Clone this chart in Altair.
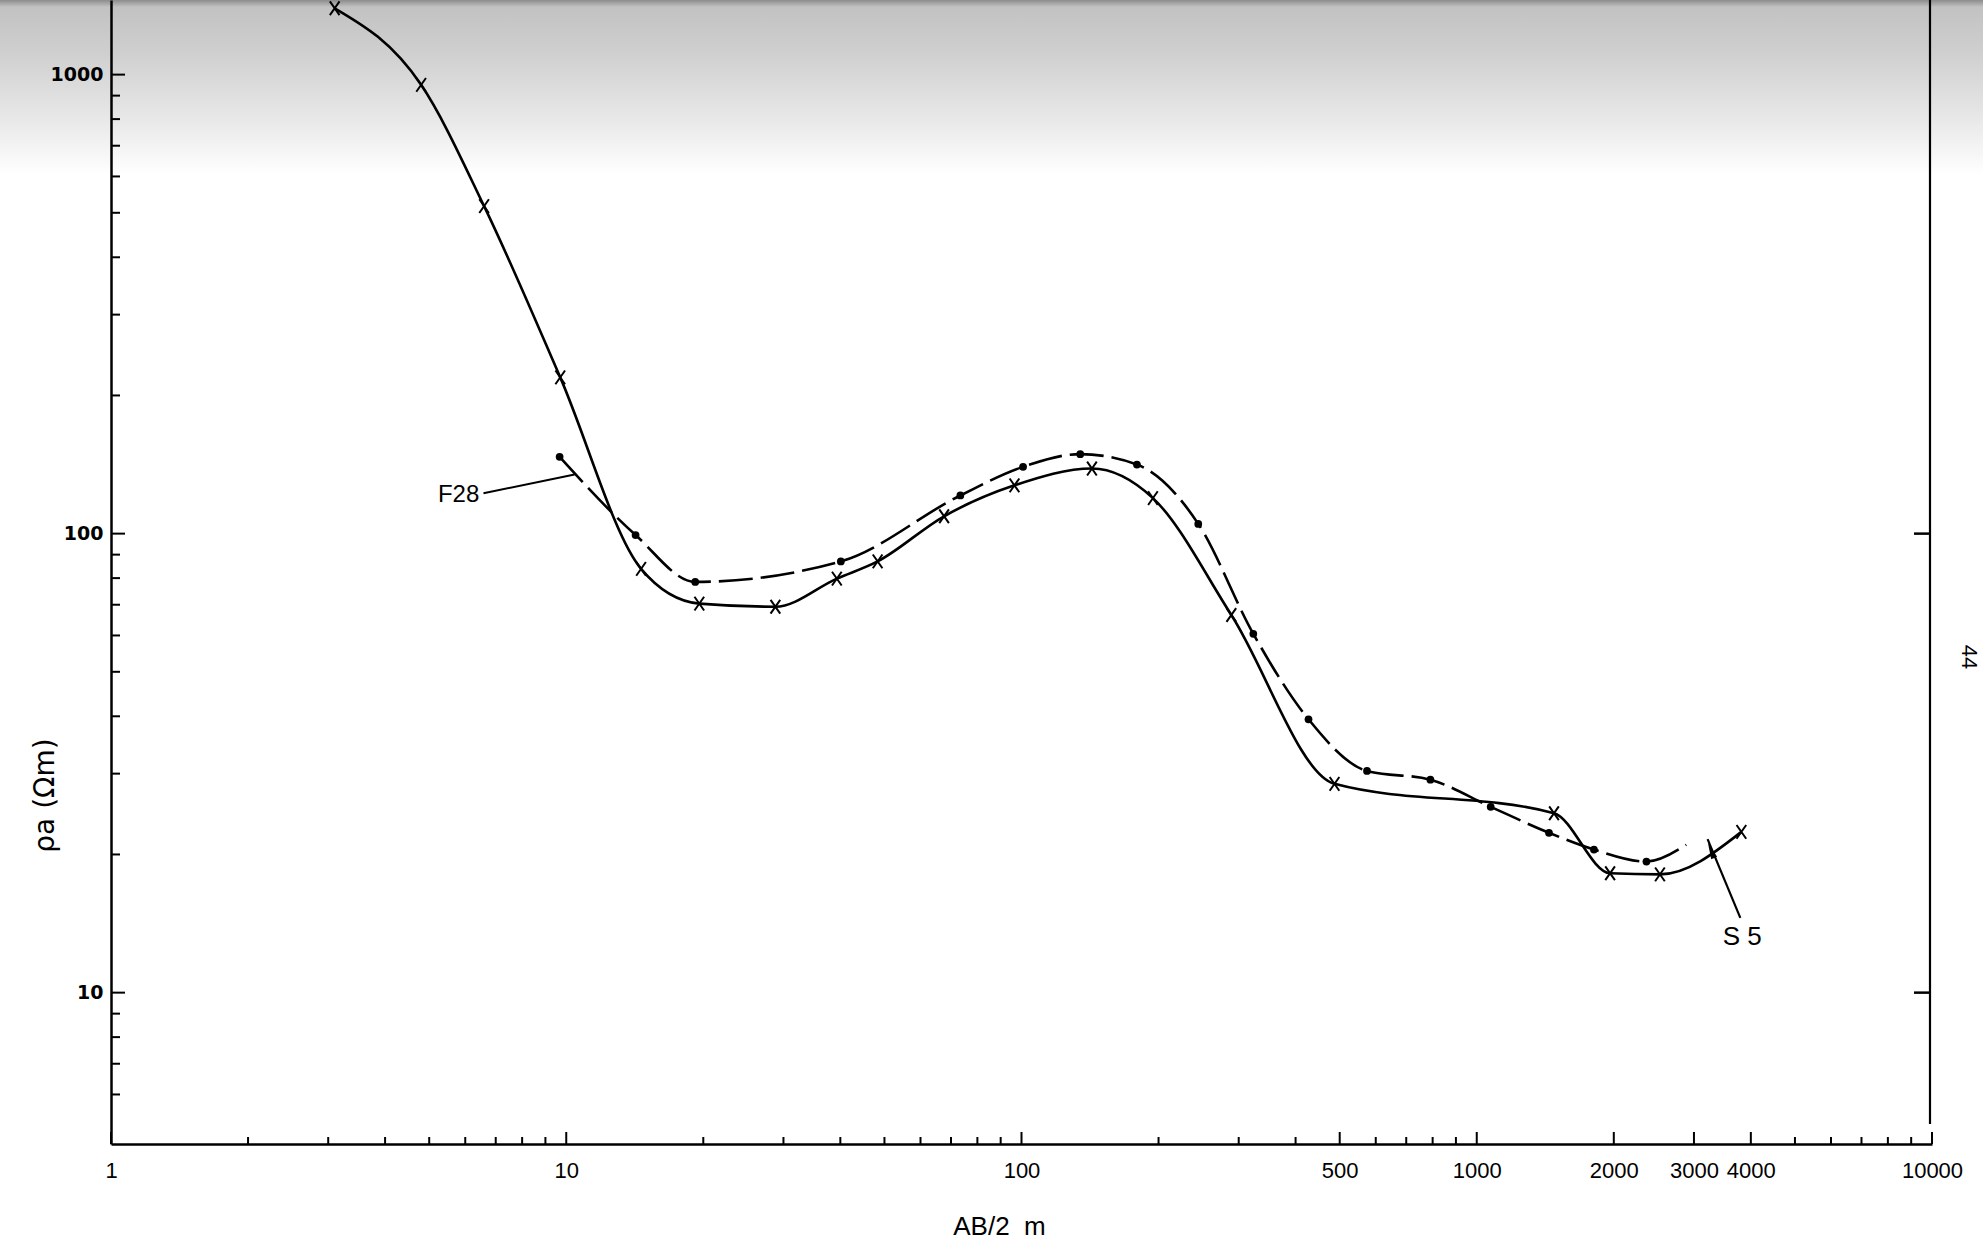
import altair as alt
import pandas as pd

# ---- data ----
# S5 sounding (x markers, solid curve)
s5_x = [3.1, 4.8, 6.6, 9.7, 14.6, 19.6, 28.8, 39.3, 48.3, 67.6, 96.5, 142.8, 194.4,
        289, 487, 1478, 1963, 2526, 3813]
s5_y = [1395, 950, 517, 219, 83.8, 70.4, 69.3, 79.8, 87.0, 109.1, 127.4, 138.6, 119.5,
        66.5, 28.5, 24.6, 18.2, 18.1, 22.4]

# F28 sounding (dot markers, dashed curve)
f28_x = [9.67, 14.2, 19.2, 40.1, 73.4, 100.8, 134.6, 179.3, 244.5, 323, 427, 574, 791,
         1073, 1441, 1809, 2359]
f28_y = [147, 99.3, 78.5, 87.0, 121.1, 139.8, 149, 141.4, 105, 60.5, 39.4, 30.4, 29.1,
         25.4, 22.3, 20.5, 19.3]
f28_tail_x = [2885]
f28_tail_y = [21.0]

# axis tick values
x_labels = [1, 10, 100, 500, 1000, 2000, 3000, 4000, 10000]
x_minor = [2, 3, 4, 5, 6, 7, 8, 9, 20, 30, 40, 50, 60, 70, 80, 90,
           200, 300, 400, 600, 700, 800, 900, 5000, 6000, 7000, 8000, 9000]
y_labels = [10, 100, 1000]
y_minor = [6, 7, 8, 9, 20, 30, 40, 50, 60, 70, 80, 90,
           200, 300, 400, 500, 600, 700, 800, 900]
right_ticks = [10, 100]

# annotations (data units)
f28_label = {"x": 5.80, "y": 121.4, "t": "F28"}
f28_pointer = {"x": 6.58, "y": 122.4, "x2": 10.43, "y2": 134.6}
s5_label = {"x": 3831, "y": 13.24, "t": "S 5"}
s5_pointer = {"x": 3793, "y": 14.55, "x2": 3214, "y2": 21.6}
s5_arrow = {"x": 3271, "y": 20.4}

W, H = 1821, 1144
FONT = "Liberation Sans"

xs = alt.Scale(type="log", domain=[1, 10000])
ys = alt.Scale(type="log", domain=[4.68, 1454])

s5_df = pd.DataFrame({"x": s5_x, "y": s5_y})
f28_df = pd.DataFrame({"x": f28_x, "y": f28_y})
f28_line_df = pd.DataFrame({"x": f28_x + f28_tail_x, "y": f28_y + f28_tail_y})

x_axis = alt.Axis(values=x_labels, format="d", ticks=False, tickSize=0, zindex=1,
                  labelOverlap=False, labelFlush=False, labelPadding=16,
                  labelFont=FONT, labelFontSize=22, labelColor="black",
                  domainColor="black", domainWidth=2.5, grid=False,
                  title="AB/2\u00a0\u00a0m", titleFont=FONT, titleFontSize=26,
                  titleFontWeight="normal", titleColor="black",
                  titleX=888, titleY=90, titleAlign="center",
                  titleBaseline="alphabetic")
y_axis = alt.Axis(values=y_labels, format="d", ticks=False, tickSize=0, zindex=1,
                  labelOverlap=False, labelFlush=False, labelPadding=8,
                  labelFont="DejaVu Sans", labelFontSize=19, labelFontWeight="bold",
                  labelColor="black", domainColor="black", domainWidth=2.5,
                  grid=False, title="ρa (Ωm)", titleFont="DejaVu Sans",
                  titleFontSize=28, titleFontWeight="normal", titleColor="black",
                  titleX=-66, titleY=795, titleAngle=270, titleAlign="center",
                  titleBaseline="middle")

# scan shading at the top of the page
shade = alt.Chart(alt.Data(values=[{}])).mark_rect(
    color=alt.LinearGradient(
        gradient="linear", x1=0, x2=0, y1=0, y2=1,
        stops=[alt.GradientStop(color="#8c8c8c", offset=0),
               alt.GradientStop(color="#c2c2c2", offset=0.04),
               alt.GradientStop(color="#cfcfcf", offset=0.3),
               alt.GradientStop(color="#e6e6e6", offset=0.65),
               alt.GradientStop(color="#ffffff", offset=1)])
).encode(x=alt.value(-111), x2=alt.value(W + 51), y=alt.value(0), y2=alt.value(175))

s5_line = alt.Chart(s5_df).mark_line(interpolate="monotone", color="black",
                                     strokeWidth=2.6).encode(
    x=alt.X("x:Q", scale=xs, axis=x_axis),
    y=alt.Y("y:Q", scale=ys, axis=y_axis))

s5_pts = alt.Chart(s5_df).mark_point(
    shape="M-0.7,-1L0.7,1M0.7,-1L-0.7,1", size=190, filled=False,
    stroke="black", strokeWidth=2, opacity=1).encode(
    x=alt.X("x:Q", scale=xs), y=alt.Y("y:Q", scale=ys))

f28_line = alt.Chart(f28_line_df).mark_line(interpolate="monotone", color="black",
                                            strokeWidth=2.6, strokeDash=[34, 8]).encode(
    x=alt.X("x:Q", scale=xs), y=alt.Y("y:Q", scale=ys))

f28_pts = alt.Chart(f28_df).mark_circle(size=60, color="black", opacity=1).encode(
    x=alt.X("x:Q", scale=xs), y=alt.Y("y:Q", scale=ys))

# inward ticks
xt_major = alt.Chart(pd.DataFrame({"v": x_labels})).mark_rule(
    color="black", strokeWidth=2).encode(
    x=alt.X("v:Q", scale=xs), y=alt.value(H), y2=alt.value(H - 12))
xt_minor = alt.Chart(pd.DataFrame({"v": x_minor})).mark_rule(
    color="black", strokeWidth=2).encode(
    x=alt.X("v:Q", scale=xs), y=alt.value(H), y2=alt.value(H - 7))
yt_major = alt.Chart(pd.DataFrame({"v": y_labels})).mark_rule(
    color="black", strokeWidth=2).encode(
    y=alt.Y("v:Q", scale=ys), x=alt.value(0), x2=alt.value(14))
yt_minor = alt.Chart(pd.DataFrame({"v": y_minor})).mark_rule(
    color="black", strokeWidth=2).encode(
    y=alt.Y("v:Q", scale=ys), x=alt.value(0), x2=alt.value(9))

# right-hand frame line with its ticks
right_line = alt.Chart(alt.Data(values=[{}])).mark_rule(
    color="black", strokeWidth=2.2).encode(
    x=alt.value(W - 2), y=alt.value(0), y2=alt.value(H - 20))
right_t = alt.Chart(pd.DataFrame({"v": right_ticks})).mark_rule(
    color="black", strokeWidth=2.5).encode(
    y=alt.Y("v:Q", scale=ys), x=alt.value(W - 18), x2=alt.value(W - 2))

# annotations
f28_txt = alt.Chart(pd.DataFrame([f28_label])).mark_text(
    font=FONT, fontSize=24, color="black", align="center", baseline="middle").encode(
    x=alt.X("x:Q", scale=xs), y=alt.Y("y:Q", scale=ys), text="t:N")
f28_ptr = alt.Chart(pd.DataFrame([f28_pointer])).mark_rule(
    color="black", strokeWidth=2).encode(
    x=alt.X("x:Q", scale=xs), x2="x2:Q", y=alt.Y("y:Q", scale=ys), y2="y2:Q")
s5_txt = alt.Chart(pd.DataFrame([s5_label])).mark_text(
    font=FONT, fontSize=26, color="black", align="center", baseline="middle").encode(
    x=alt.X("x:Q", scale=xs), y=alt.Y("y:Q", scale=ys), text="t:N")
s5_ptr = alt.Chart(pd.DataFrame([s5_pointer])).mark_rule(
    color="black", strokeWidth=2.2).encode(
    x=alt.X("x:Q", scale=xs), x2="x2:Q", y=alt.Y("y:Q", scale=ys), y2="y2:Q")
s5_head = alt.Chart(pd.DataFrame([s5_arrow])).mark_point(
    shape="M0,-1L0.4,1L-0.4,1Z", size=260, filled=True, color="black",
    opacity=1, angle=337.5).encode(
    x=alt.X("x:Q", scale=xs), y=alt.Y("y:Q", scale=ys))

page_no = alt.Chart(alt.Data(values=[{"t": "44"}])).mark_text(
    font=FONT, fontSize=22, color="black", angle=90, align="center",
    baseline="middle").encode(x=alt.value(1858), y=alt.value(657), text="t:N")

chart = alt.layer(
    shade, s5_line, f28_line, s5_pts, f28_pts,
    xt_major, xt_minor, yt_major, yt_minor, right_line, right_t,
    f28_ptr, f28_txt, s5_ptr, s5_head, s5_txt, page_no
).properties(
    width=W, height=H,
    autosize=alt.AutoSizeParams(type="none"),
    padding={"left": 111, "top": 0, "right": 51, "bottom": 98},
    background="white"
).configure_view(stroke=None)

chart.save("out.html", embed_options={"renderer": "svg", "actions": False})
